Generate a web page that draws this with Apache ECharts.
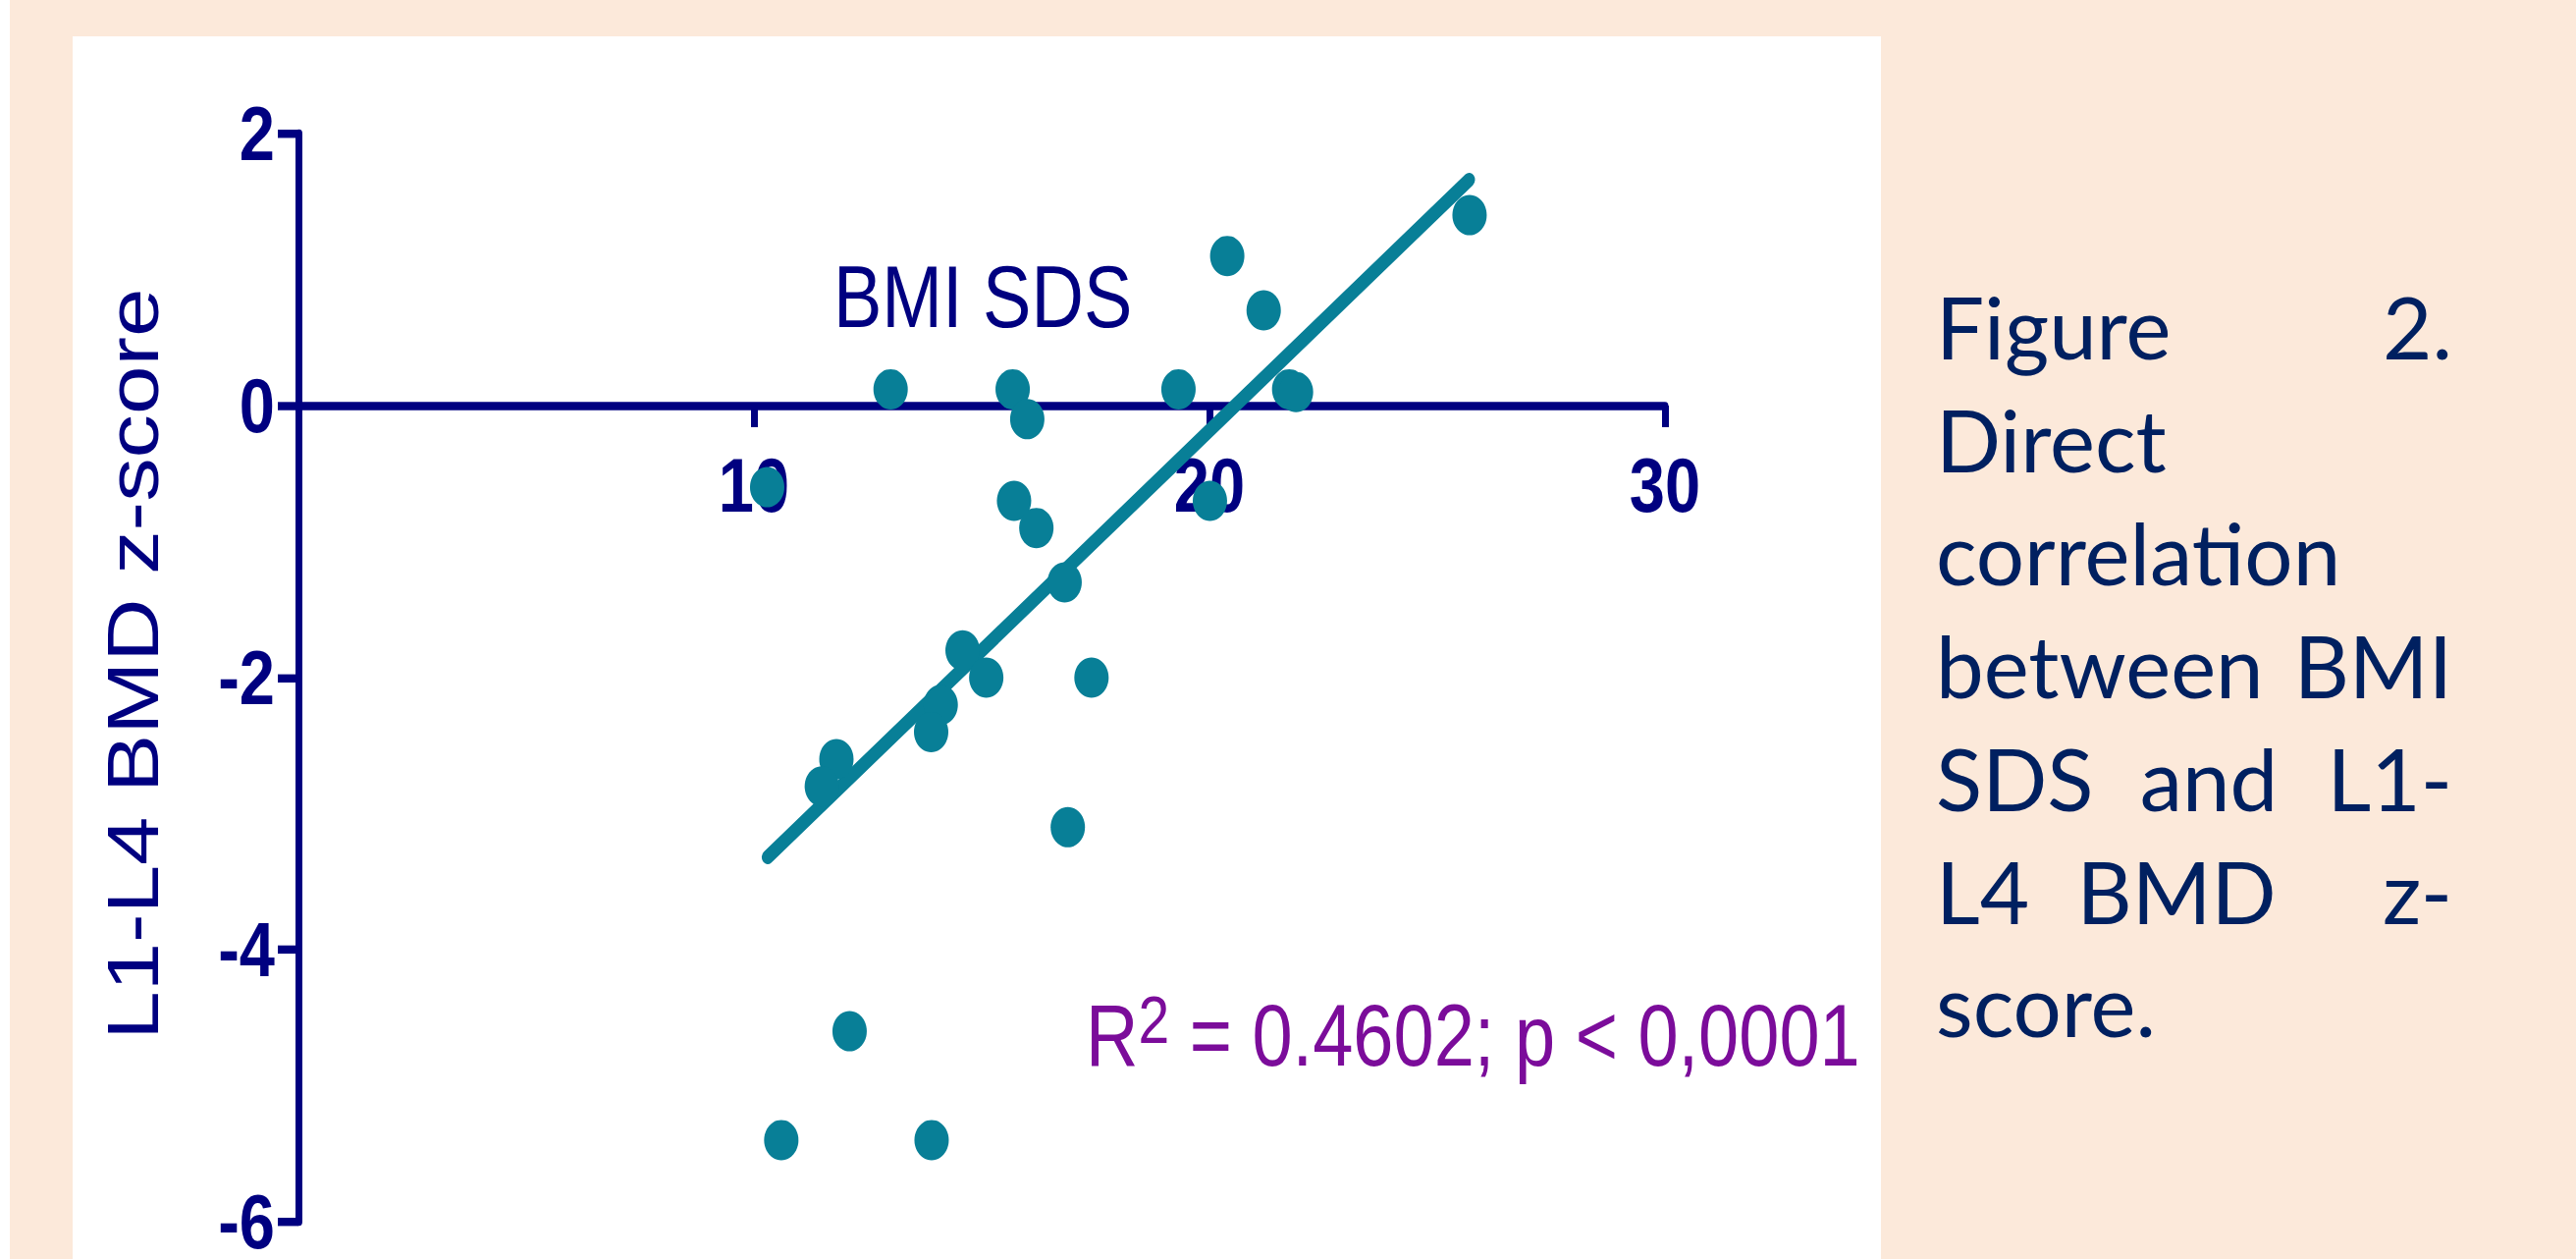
<!DOCTYPE html>
<html>
<head>
<meta charset="utf-8">
<script src="https://cdn.jsdelivr.net/npm/echarts@6/dist/echarts.min.js"></script>
<style>
html, body { margin: 0; padding: 0; background: #FCE9DA; overflow: hidden; }
#wrap { width: 2624px; height: 1282px; overflow: hidden; }
/* the original figure is stretched vertically, so the chart is drawn squat and stretched back */
#chart { width: 2624px; height: 1068px; transform: scaleY(1.2003745); transform-origin: 0 0; }
</style>
</head>
<body>
<div id="wrap"><div id="chart"></div></div>
<script>
// BMI SDS (x) vs L1-L4 BMD z-score (y)
let bmiSds = [10.29, 13.0, 15.68, 16.0, 15.71, 16.2, 19.32, 20.39, 21.19, 21.75, 21.9, 20.01, 25.71,
    16.82, 14.58, 15.1, 17.41, 14.1, 13.89, 11.81, 11.49, 16.89, 12.1, 10.6, 13.9];
let bmdZ = [-0.6, 0.12, 0.12, -0.1, -0.7, -0.9, 0.12, 1.1, 0.7, 0.12, 0.1, -0.7, 1.4,
    -1.3, -1.8, -2.0, -2.0, -2.2, -2.4, -2.6, -2.8, -3.1, -4.6, -5.4, -5.4];
// regression line end points
let fitX = [10.3, 25.7];
let fitY = [-3.32, 1.66];

let xMin = 0, xMax = 30, xStep = 10;
let yMin = -6, yMax = 2, yStep = 2;

let xName = 'BMI SDS';
let yName = 'L1-L4 BMD z-score';
let statText = '{r|R}{s|2}{r| = 0.4602; p < 0,0001}';
// caption lines, justified by hand: [left word, middle word, right word]
let captionLines = [
    ['Figure', '', '2.'],
    ['Direct', '', ''],
    ['correlation', '', ''],
    ['between', '', 'BMI'],
    ['SDS', 'and', 'L1-'],
    ['L4', 'BMD', 'z-'],
    ['score.', '', '']
];
let captionMid = [0, 0, 0, 0, 2250, 2217, 0];

let k = 1282 / 1068;   // vertical stretch
let navy = '#000080';
let teal = '#087F97';
let font = '"Liberation Sans", Arial, sans-serif';

let points = bmiSds.map((x, i) => [x, bmdZ[i]]);
let fit = fitX.map((x, i) => [x, fitY[i]]);

let gridTop = 136 / k, gridBottom = 38 / k;
let gridH = 1068 - gridTop - gridBottom;
let zeroY = gridTop + gridH * (yMax / (yMax - yMin));
let xOffset = -(gridTop + gridH - zeroY);

let graphics = [
    { type: 'rect', z: -10, shape: { x: 0, y: 0, width: 10, height: 1068 }, style: { fill: '#ffffff' } },
    { type: 'rect', z: -10, shape: { x: 74, y: 37 / k, width: 1842, height: 1245 / k }, style: { fill: '#ffffff' } },
    {
        type: 'text', x: 849, y: 252, z: 5,
        style: { text: xName, align: 'left', verticalAlign: 'middle', fontFamily: font, fontSize: 74, fill: navy }
    },
    {
        type: 'text', x: 1106, y: 836, z: 5,
        style: {
            text: statText, align: 'left', verticalAlign: 'top',
            rich: {
                r: { fontFamily: font, fontSize: 74, lineHeight: 84, fill: '#7B0C9A' },
                s: { fontFamily: font, fontSize: 57, lineHeight: 44, verticalAlign: 'top', fill: '#7B0C9A' }
            }
        }
    }
];

let capStyle = { fontFamily: 'Lato, "Open Sans", sans-serif', fontSize: 87, fill: '#002060' };
captionLines.forEach((words, i) => {
    let y = (363 + i * 115 - 30) / k;
    let put = (text, x, align) => graphics.push({
        type: 'text', x: x, y: y, scaleY: 1 / k,
        style: Object.assign({ text: text, align: align, verticalAlign: 'middle' }, capStyle)
    });
    if (words[0]) put(words[0], 1972, 'left');
    if (words[1]) put(words[1], captionMid[i], 'center');
    if (words[2]) put(words[2], 2498, 'right');
});

let myc = echarts.init(document.getElementById('chart'), null, { renderer: 'svg' });
let options = {
    backgroundColor: '#FCE9DA',
    animation: false,
    grid: { left: 304, right: 928, top: gridTop, bottom: gridBottom, outerBoundsMode: 'none' },
    xAxis: {
        type: 'value',
        min: xMin, max: xMax, interval: xStep,
        offset: xOffset,
        axisLine: { onZero: false, lineStyle: { color: navy, width: 7 } },
        axisTick: { length: 22 / k, lineStyle: { color: navy, width: 7 } },
        axisLabel: { showMinLabel: false, margin: 35, fontFamily: font, fontWeight: 'bold', fontSize: 65, color: navy },
        splitLine: { show: false }
    },
    yAxis: {
        type: 'value',
        min: yMin, max: yMax, interval: yStep,
        name: yName,
        nameLocation: 'middle',
        nameGap: 132,
        nameTextStyle: { fontFamily: font, fontSize: 74, color: navy, padding: [0, 0, 0, 23] },
        axisLine: { onZero: false, lineStyle: { color: navy, width: 7 } },
        axisTick: { length: 21, lineStyle: { color: navy, width: 7 } },
        axisLabel: { margin: 24, fontFamily: font, fontWeight: 'bold', fontSize: 65, color: navy },
        splitLine: { show: false }
    },
    series: [
        {
            type: 'line',
            data: fit,
            symbol: 'none',
            z: 3,
            lineStyle: { color: teal, width: 12, cap: 'round' }
        },
        {
            type: 'scatter',
            data: points,
            symbol: 'circle',
            symbolSize: [35, 41 / k],
            z: 4,
            itemStyle: { color: teal, opacity: 1 }
        }
    ],
    graphic: graphics
};
myc.setOption(options);
</script>
</body>
</html>
